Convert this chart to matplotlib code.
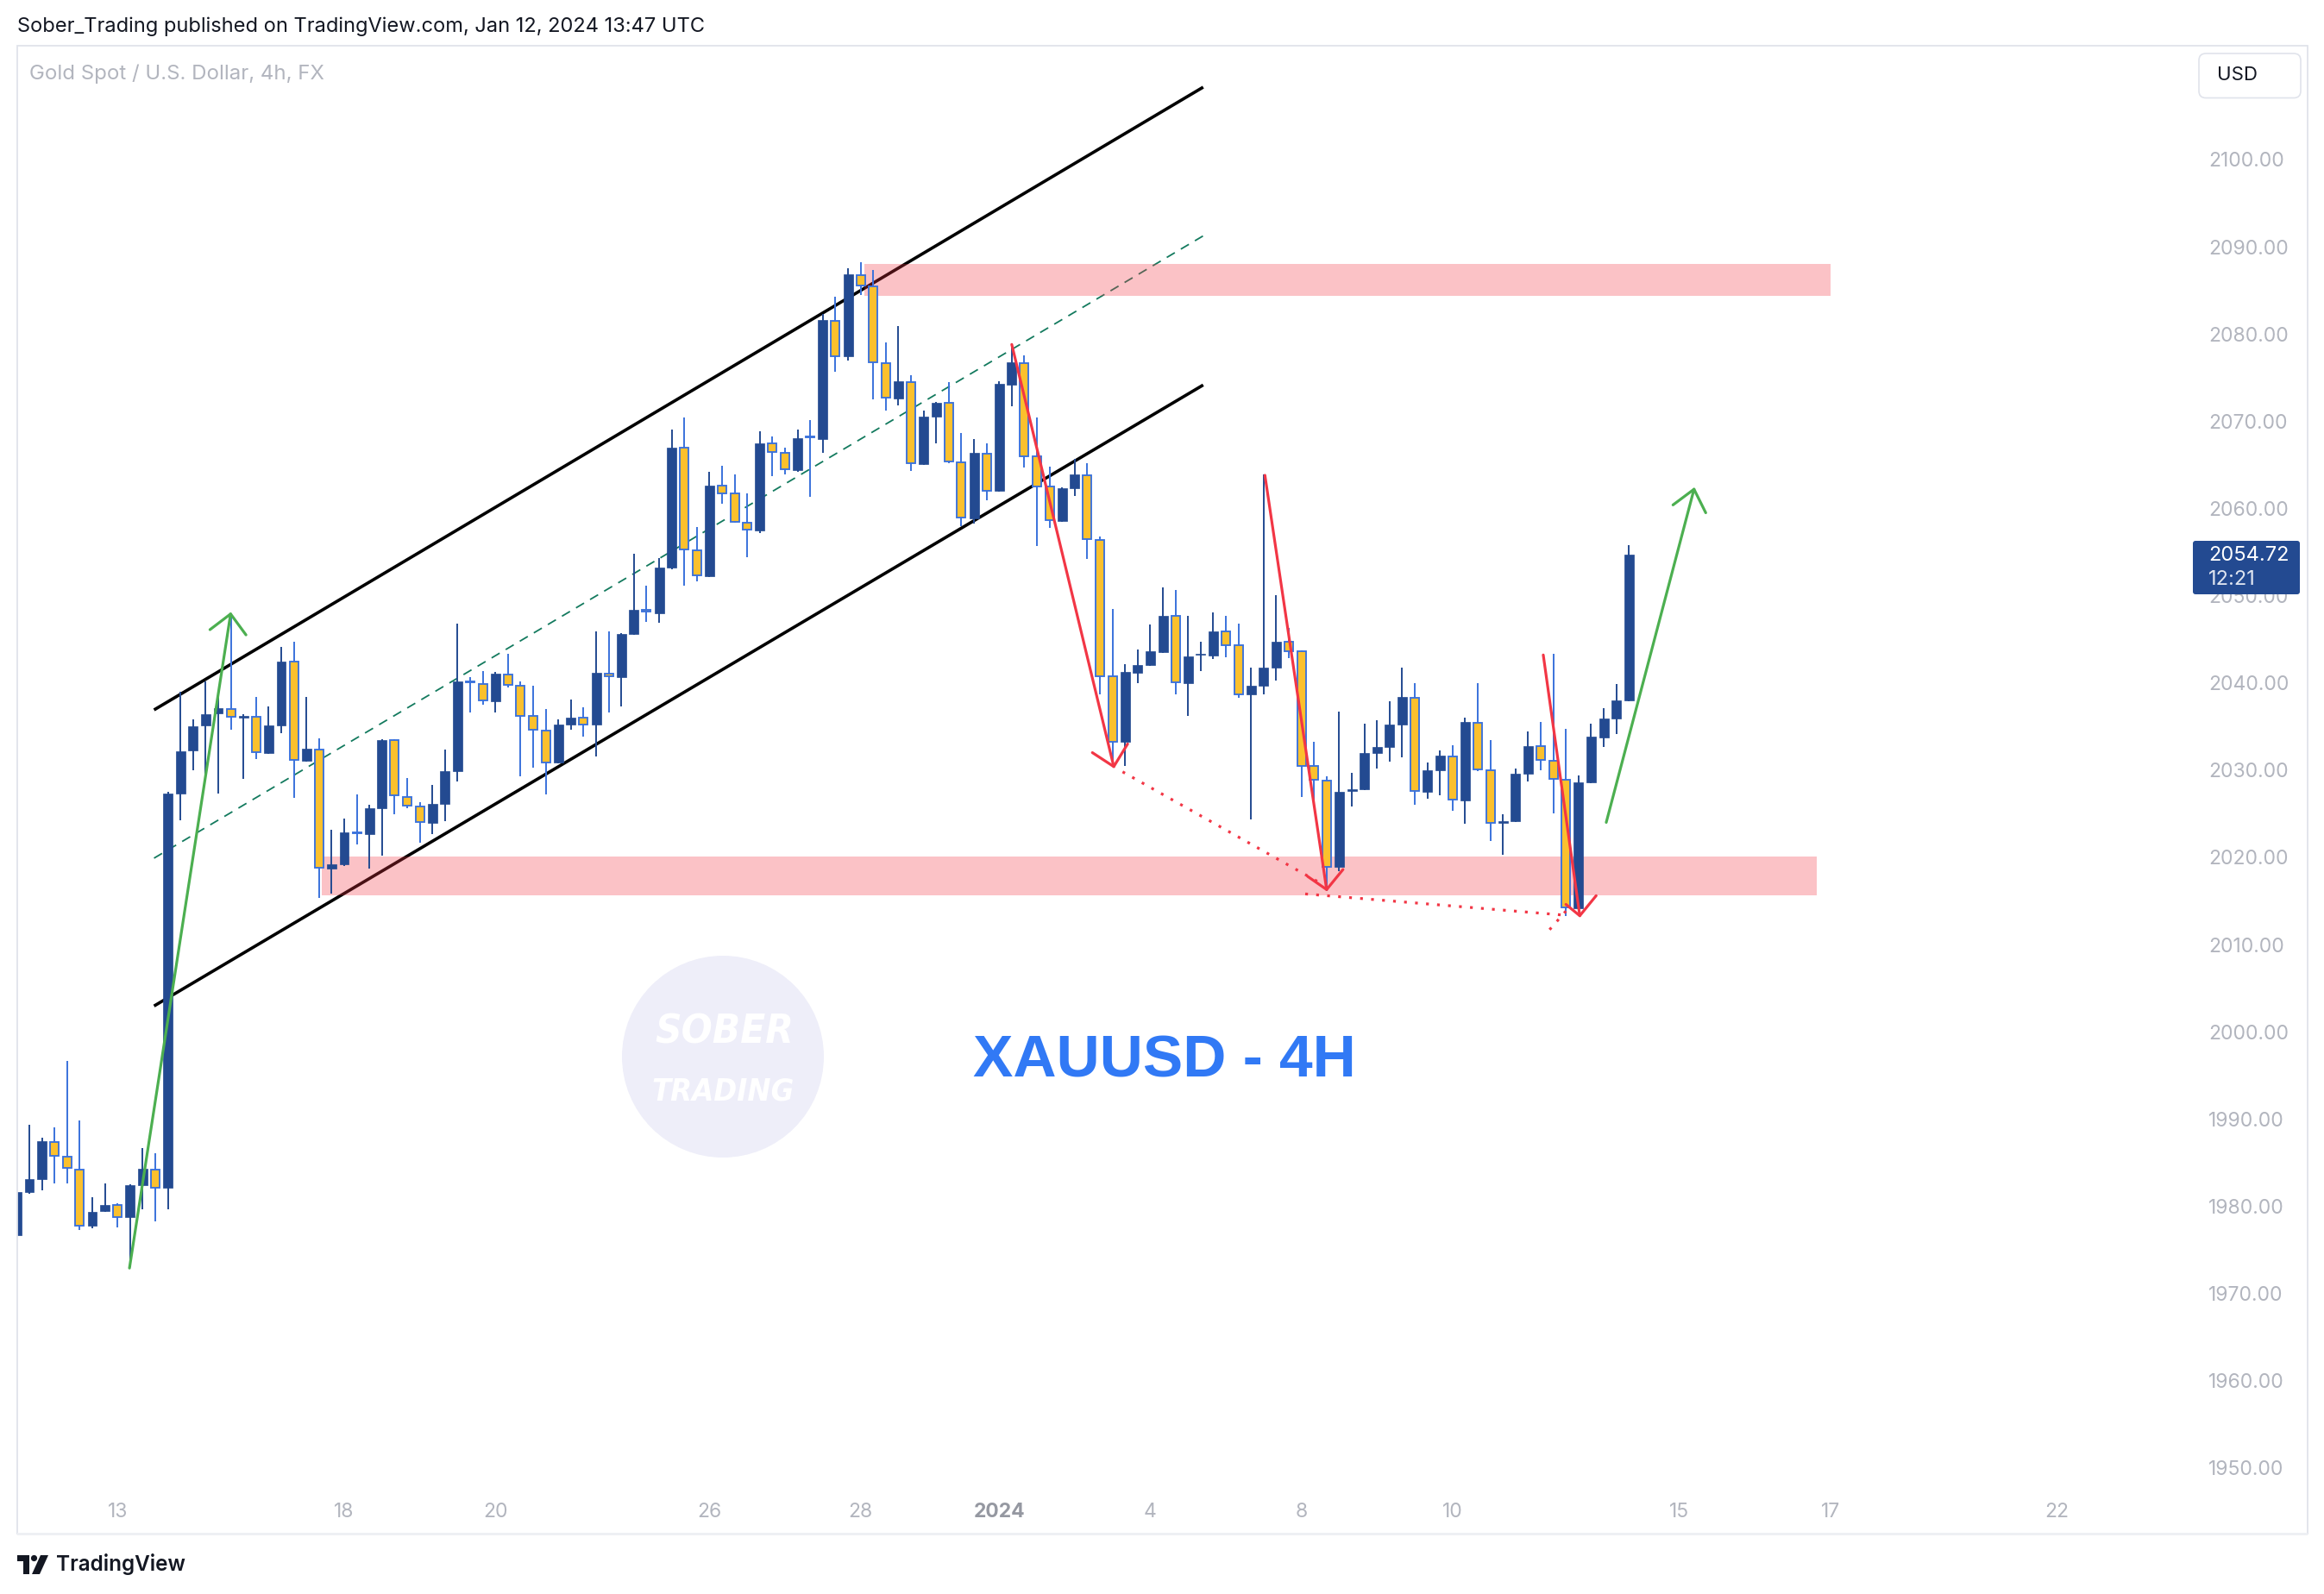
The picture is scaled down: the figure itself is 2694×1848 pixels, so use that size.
import matplotlib
matplotlib.use("Agg")
import matplotlib.pyplot as plt
from matplotlib.patches import Rectangle, Ellipse, Polygon, Circle, FancyBboxPatch
from matplotlib.transforms import IdentityTransform
import numpy as np

# ---------------- data ----------------
opens = [1976.7, 1981.6, 1983.1, 1987.4, 1985.7, 1984.2, 1977.8, 1979.4, 1980.1, 1978.8,
         1982.4, 1984.2, 1982.1, 2027.3, 2032.3, 2035.1, 2036.5, 2037.0, 2036.0, 2036.1,
         2032.0, 2035.1, 2042.4, 2031.1, 2032.4, 2018.7, 2019.2, 2022.9, 2022.7, 2025.6,
         2033.4, 2026.9, 2025.8, 2023.9, 2026.1, 2029.9, 2040.2, 2039.9, 2037.9, 2041.0,
         2039.7, 2036.2, 2034.5, 2030.9, 2035.2, 2036.0, 2035.2, 2041.1, 2040.7, 2045.6,
         2048.4, 2048.0, 2053.2, 2067.0, 2055.2, 2052.2, 2062.6, 2061.7, 2058.4, 2057.5,
         2067.5, 2066.4, 2064.4, 2068.3, 2068.0, 2081.5, 2077.4, 2086.7, 2085.5, 2076.7,
         2072.6, 2074.5, 2065.1, 2070.5, 2072.1, 2065.3, 2058.9, 2066.3, 2062.0, 2074.2,
         2076.7, 2066.0, 2062.5, 2058.6, 2062.3, 2063.8, 2056.4, 2040.8, 2033.2, 2041.2,
         2042.0, 2043.5, 2047.7, 2040.0, 2043.2, 2043.1, 2045.9, 2044.3, 2038.7, 2039.7,
         2041.7, 2044.7, 2043.6, 2030.5, 2028.8, 2018.9, 2027.6, 2027.8, 2032.0, 2032.6,
         2035.2, 2038.3, 2027.5, 2030.0, 2031.6, 2026.5, 2035.4, 2030.0, 2023.9, 2024.1,
         2029.6, 2032.7, 2031.1, 2028.9, 2014.2, 2028.6, 2033.7, 2035.9, 2038.0]
highs = [1981.8, 1989.3, 1987.8, 1989.0, 1996.7, 1989.8, 1981.0, 1982.6, 1980.3, 1982.5,
         1986.7, 1986.1, 2027.5, 2039.0, 2035.8, 2040.2, 2039.0, 2047.9, 2036.4, 2038.4,
         2037.3, 2044.1, 2044.7, 2038.4, 2033.6, 2023.2, 2024.4, 2027.2, 2026.0, 2033.5,
         2033.5, 2029.1, 2026.3, 2028.3, 2032.4, 2046.8, 2040.7, 2041.4, 2041.3, 2043.3,
         2040.2, 2039.7, 2037.0, 2035.8, 2038.1, 2037.2, 2045.9, 2045.9, 2045.7, 2054.8,
         2051.1, 2054.3, 2069.0, 2070.4, 2057.9, 2064.2, 2064.9, 2063.9, 2061.7, 2068.8,
         2068.3, 2067.0, 2069.0, 2070.1, 2082.3, 2084.3, 2087.5, 2088.2, 2087.3, 2079.0,
         2080.9, 2075.3, 2071.2, 2072.2, 2074.5, 2068.6, 2068.0, 2067.5, 2074.6, 2078.7,
         2077.5, 2070.4, 2064.8, 2062.4, 2065.7, 2065.2, 2056.8, 2048.5, 2042.1, 2043.8,
         2046.7, 2050.9, 2050.6, 2047.7, 2044.7, 2048.1, 2047.7, 2046.8, 2041.7, 2063.9,
         2050.1, 2046.3, 2043.7, 2033.2, 2029.3, 2036.7, 2029.7, 2035.3, 2035.7, 2037.9,
         2041.7, 2040.0, 2030.9, 2032.3, 2032.8, 2036.0, 2040.0, 2033.4, 2024.9, 2030.2,
         2034.4, 2035.5, 2043.3, 2034.7, 2029.4, 2035.3, 2037.1, 2039.9, 2055.8]
lows = [1976.5, 1981.4, 1981.8, 1982.6, 1982.6, 1977.3, 1977.5, 1979.3, 1977.6, 1973.0,
        1979.6, 1978.3, 1979.6, 2024.2, 2030.0, 2029.0, 2027.3, 2034.6, 2029.0, 2031.3,
        2031.9, 2034.2, 2026.8, 2031.0, 2015.3, 2015.8, 2019.0, 2021.5, 2018.7, 2020.2,
        2024.9, 2025.6, 2021.7, 2022.7, 2024.1, 2028.7, 2036.6, 2037.5, 2036.6, 2039.5,
        2029.3, 2030.3, 2027.2, 2030.8, 2034.6, 2033.8, 2031.6, 2036.6, 2037.3, 2045.5,
        2047.0, 2046.9, 2053.0, 2051.1, 2051.6, 2052.1, 2060.5, 2058.4, 2054.4, 2057.2,
        2063.75, 2063.9, 2064.2, 2061.3, 2066.4, 2075.7, 2077.0, 2084.5, 2072.5, 2071.2,
        2071.8, 2064.3, 2065.0, 2067.5, 2065.2, 2058.0, 2058.3, 2060.9, 2061.9, 2071.7,
        2064.7, 2055.7, 2057.8, 2058.5, 2061.4, 2054.2, 2038.7, 2030.4, 2030.5, 2040.0,
        2041.9, 2043.4, 2038.7, 2036.2, 2041.4, 2042.7, 2042.9, 2038.3, 2024.3, 2038.7,
        2040.3, 2042.8, 2026.9, 2026.3, 2016.1, 2018.4, 2025.8, 2027.7, 2030.2, 2031.0,
        2031.5, 2026.0, 2026.7, 2027.1, 2025.3, 2023.8, 2029.9, 2021.9, 2020.3, 2024.0,
        2028.7, 2030.0, 2025.0, 2013.3, 2013.8, 2028.5, 2032.6, 2034.1, 2037.9]
closes = [1981.6, 1983.1, 1987.5, 1985.8, 1984.4, 1977.8, 1979.3, 1980.1, 1978.8, 1982.4,
          1984.3, 1982.1, 2027.3, 2032.2, 2035.0, 2036.4, 2037.1, 2036.1, 2036.2, 2032.1,
          2035.1, 2042.4, 2031.2, 2032.5, 2018.8, 2019.2, 2022.9, 2022.8, 2025.6, 2033.4,
          2027.1, 2025.9, 2024.0, 2026.1, 2029.9, 2040.2, 2040.1, 2038.0, 2041.1, 2039.8,
          2036.2, 2034.6, 2030.9, 2035.2, 2036.0, 2035.2, 2041.2, 2040.8, 2045.6, 2048.4,
          2048.2, 2053.2, 2067.0, 2055.3, 2052.3, 2062.6, 2061.7, 2058.5, 2057.6, 2067.5,
          2066.5, 2064.5, 2068.1, 2068.2, 2081.6, 2077.4, 2086.8, 2085.6, 2076.8, 2072.7,
          2074.6, 2065.2, 2070.5, 2072.1, 2065.4, 2059.0, 2066.4, 2062.0, 2074.3, 2076.8,
          2066.0, 2062.5, 2058.7, 2062.3, 2063.9, 2056.5, 2040.8, 2033.2, 2041.3, 2042.0,
          2043.6, 2047.7, 2040.1, 2043.0, 2043.3, 2045.9, 2044.3, 2038.7, 2039.7, 2041.7,
          2044.7, 2043.6, 2030.5, 2028.9, 2018.9, 2027.5, 2027.8, 2032.0, 2032.6, 2035.2,
          2038.4, 2027.6, 2030.0, 2031.7, 2026.6, 2035.5, 2030.1, 2023.9, 2024.1, 2029.6,
          2032.7, 2031.2, 2029.0, 2014.3, 2028.6, 2033.8, 2035.9, 2038.0, 2054.72]

date_tick_pos = [8, 26, 38, 55, 67, 78, 90, 102, 114, 132, 144, 162]
date_tick_labels = ["13", "18", "20", "26", "28", "2024", "4", "8", "10", "15", "17", "22"]
price_ticks = [1950, 1960, 1970, 1980, 1990, 2000, 2010, 2020, 2030, 2040, 2050,
               2060, 2070, 2080, 2090, 2100]
last_price = 2054.72
countdown = "12:21"

# drawings: (bar index, price)
channel_upper = [(10.9, 2036.9), (94.2, 2108.3)]
channel_lower = [(10.9, 2002.95), (94.2, 2074.15)]
channel_mid = [(10.9, 2019.9), (94.2, 2091.25)]
zone_high = (67.3, 144.0, 2084.4, 2088.0)   # x0, x1, y0, y1
zone_low = (24.2, 142.9, 2015.6, 2020.1)
green_arrows = [
    [(8.95, 1972.9), (16.98, 2047.9), (15.34, 2046.1), (18.2, 2045.5)],
    [(126.2, 2024.0), (133.17, 2062.2), (131.5, 2060.4), (134.1, 2059.5)],
]
red_arrows = [
    [(79.0, 2078.8), (87.1, 2030.4), (85.4, 2032.0), (88.2, 2033.0)],
    [(99.1, 2063.8), (104.0, 2016.3), (102.5, 2017.8), (105.3, 2018.6)],
    [(121.2, 2043.2), (124.1, 2013.3), (123.0, 2014.6), (125.4, 2015.6)],
]
red_dotted = [
    [(87.8, 2029.8), (103.8, 2016.8)],
    [(102.3, 2015.8), (122.6, 2013.4)],
    [(121.7, 2011.7), (123.1, 2014.0)],
]
label_anchor = (91.1, 1994.8)

# ---------------- style ----------------
W, H = 2694, 1848
DPI = 100
plt.rcParams['font.family'] = ['Inter', 'DejaVu Sans']
NAVY = "#234a91"
YEL = "#fbc02d"
BLUE = "#3a72dc"
GRAY = "#b2b5be"
RED = "#f23645"
GREEN = "#4caf50"

fig = plt.figure(figsize=(W / DPI, H / DPI), dpi=DPI)
fig.patch.set_facecolor("white")

def fx(px):
    return px / W

def fy(py):
    return 1 - py / H

ax = fig.add_axes([fx(20), fy(1727), fx(2540) - fx(20), fy(53) - fy(1727)])
ax.set_facecolor("white")
ax.set_xlim(0.04, 172.64)
ax.set_ylim(1947.5, 2113.05)
for s in ax.spines.values():
    s.set_visible(False)

# candles
o = np.array(opens); hi = np.array(highs); lo = np.array(lows); c = np.array(closes)
x = np.arange(len(o))
up = c >= o
ax.vlines(x[up], lo[up], hi[up], color=NAVY, lw=1.4, zorder=3)
ax.vlines(x[~up], lo[~up], hi[~up], color=BLUE, lw=1.4, zorder=3)
ax.bar(x[up], np.maximum(c[up] - o[up], 0.12), bottom=o[up], width=0.75,
       color=NAVY, edgecolor=NAVY, lw=0.5, zorder=4)
ax.bar(x[~up], o[~up] - c[~up], bottom=c[~up], width=0.68,
       color=YEL, edgecolor=BLUE, lw=1.35, zorder=4)

# channel
for ln in (channel_upper, channel_lower):
    xs, ys = zip(*ln)
    ax.plot(xs, ys, color="black", lw=2.6, zorder=1, solid_capstyle="butt")
xs, ys = zip(*channel_mid)
ax.plot(xs, ys, color="#137a5e", lw=1.3, ls=(0, (6, 4.5)), zorder=1)

# zones
for z in (zone_high, zone_low):
    ax.add_patch(Rectangle((z[0], z[2]), z[1] - z[0], z[3] - z[2],
                           facecolor=RED, alpha=0.3, edgecolor="none", zorder=2))

# arrows
def draw_arrow(a, col):
    (x0, y0), (x1, y1), (xa, ya), (xb, yb) = a
    ax.plot([x0, x1], [y0, y1], color=col, lw=2.3, zorder=6, solid_capstyle="round")
    ax.plot([xa, x1, xb], [ya, y1, yb], color=col, lw=2.3, zorder=6,
            solid_capstyle="round", solid_joinstyle="round")

for a in green_arrows:
    draw_arrow(a, GREEN)
for a in red_arrows:
    draw_arrow(a, RED)
for d in red_dotted:
    xs, ys = zip(*d)
    ax.plot(xs, ys, color=RED, lw=2.3, ls=(0, (1, 3)), zorder=6)

# watermark
ax.add_patch(Ellipse((fx(838), fy(1225)), 2 * 117 / W, 2 * 117 / H,
                     transform=fig.transFigure, facecolor="#eeeef9", edgecolor="none", zorder=0.5))
ax.text(fx(840), fy(1197), "SOBER", transform=fig.transFigure, ha="center", va="center",
        color="white", fontsize=34, fontweight="bold", fontstyle="italic", fontstretch="condensed",
        family=["Liberation Sans Narrow", "DejaVu Sans"], zorder=0.6)
ax.text(fx(838), fy(1265), "TRADING", transform=fig.transFigure, ha="center", va="center",
        color="white", fontsize=26, fontweight="bold", fontstyle="italic", fontstretch="condensed",
        family=["Liberation Sans Narrow", "DejaVu Sans"], zorder=0.6)

# big label
ax.text(label_anchor[0], label_anchor[1], "XAUUSD - 4H", ha="center", va="baseline",
        color="#3179f5", fontsize=50, fontweight="bold",
        family=["Liberation Sans", "DejaVu Sans"], zorder=7)

# axes ticks
ax.yaxis.tick_right()
ax.set_yticks(price_ticks)
ax.set_yticklabels([f"{p:.2f}" for p in price_ticks])
ax.tick_params(axis="y", length=0, pad=14.5, labelsize=16.5, labelcolor=GRAY)
ax.set_xticks(date_tick_pos)
ax.set_xticklabels(date_tick_labels)
ax.tick_params(axis="x", length=0, pad=11, labelsize=16.5, labelcolor=GRAY)
for t in ax.get_xticklabels():
    if t.get_text() == "2024":
        t.set_fontweight("bold")
        t.set_color("#9598a1")

# frame
fig.add_artist(Rectangle((fx(20), fy(1778)), fx(2675) - fx(20), fy(53) - fy(1778),
                         transform=fig.transFigure, fill=False, edgecolor="#e0e3eb", lw=1.3, zorder=1))
fig.add_artist(Rectangle((fx(20), fy(1780)), fx(2675) - fx(20), 3 / H,
                         transform=fig.transFigure, facecolor="#eef0f4", edgecolor="none", zorder=1))

# header texts
fig.text(fx(20), fy(31), "Sober_Trading published on TradingView.com, Jan 12, 2024 13:47 UTC",
         ha="left", va="center", fontsize=17, color="#131722")
fig.text(fx(34), fy(86), "Gold Spot / U.S. Dollar, 4h, FX", ha="left", va="center",
         fontsize=17.3, color=GRAY)

# USD box
fig.add_artist(FancyBboxPatch((2549, H - 113.5), 118, 51.5,
                              boxstyle="round,pad=0,rounding_size=8",
                              transform=IdentityTransform(), facecolor="white",
                              edgecolor="#e0e3eb", lw=1.2, zorder=2))
fig.text(fx(2593), fy(87), "USD", ha="center", va="center", fontsize=16, color="#131722", zorder=3)

# last price box
fig.add_artist(FancyBboxPatch((2542, H - 689), 124, 62,
                              boxstyle="round,pad=0,rounding_size=3",
                              transform=IdentityTransform(), facecolor=NAVY,
                              edgecolor="none", zorder=2))
fig.text(fx(2560), fy(644), f"{last_price:.2f}", ha="left", va="center", fontsize=17,
         color="white", zorder=3)
fig.text(fx(2560), fy(672), countdown, ha="left", va="center", fontsize=17,
         color="#dfe5f0", zorder=3)

# TradingView logo
logo_T = Polygon([(20, H - 1803), (34, H - 1803), (34, H - 1825), (27, H - 1825),
                  (27, H - 1810), (20, H - 1810)], closed=True,
                 transform=IdentityTransform(), facecolor="#131722", edgecolor="none")
logo_dot = Circle((39.5, H - 1806.5), 3.6, transform=IdentityTransform(),
                  facecolor="#131722", edgecolor="none")
logo_V = Polygon([(47, H - 1803), (56, H - 1803), (46, H - 1825), (37, H - 1825)], closed=True,
                 transform=IdentityTransform(), facecolor="#131722", edgecolor="none")
for p in (logo_T, logo_dot, logo_V):
    fig.add_artist(p)
fig.text(fx(65), fy(1814), "TradingView", ha="left", va="center", fontsize=17.5,
         fontweight="semibold", color="#131722")

fig.savefig("out.png", dpi=DPI)
